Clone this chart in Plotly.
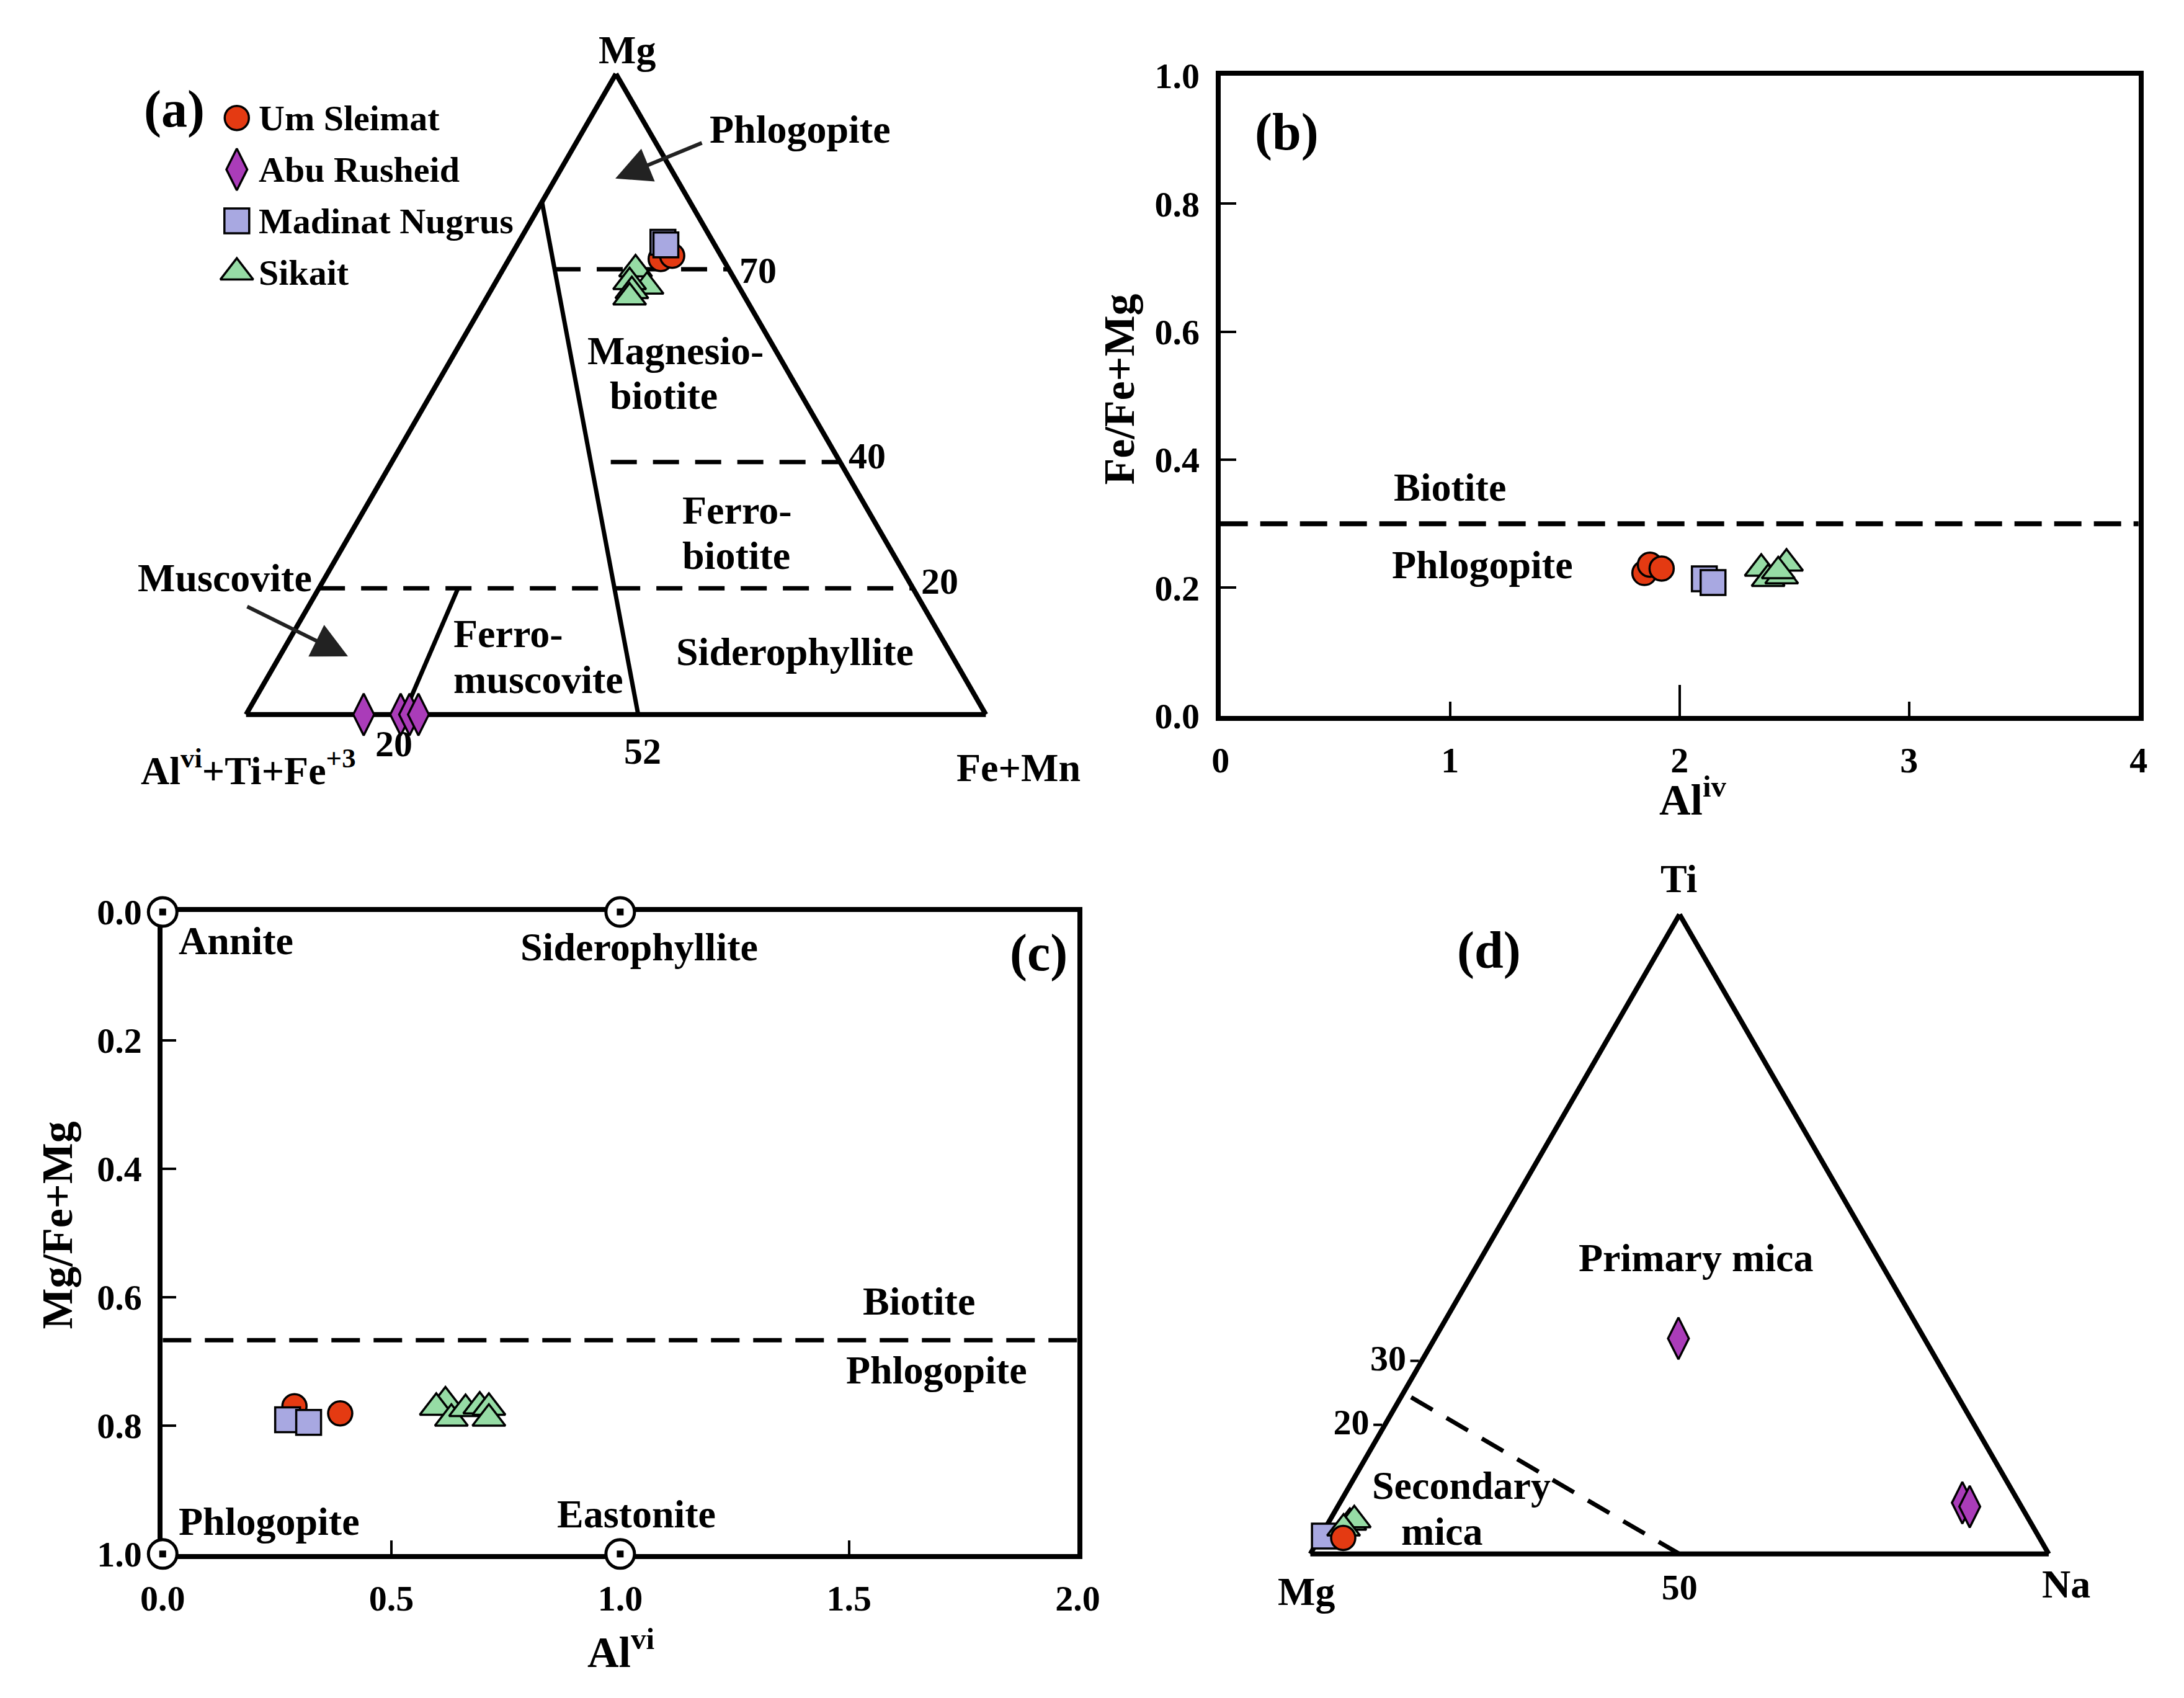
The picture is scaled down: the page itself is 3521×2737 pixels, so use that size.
import plotly.graph_objects as go

W, H = 3521, 2737
FONT = "Liberation Serif"

# ---------------- series styling ----------------
SERIES = ["Um Sleimat", "Abu Rusheid", "Madinat Nugrus", "Sikait"]
COLORS = ["#E43A12", "#AA3CB9", "#A8A8E1", "#96DCA5"]
SYMBOLS = ["circle", "diamond-tall", "square", "triangle-up"]
SIZES = [39, 48, 40, 46]

# ---------------- (a) Mg - (Al^vi+Ti+Fe3+) - (Fe+Mn) ternary ----------------
a_us_mg = [0.711, 0.716]
a_us_al = [0.084, 0.066]
a_us_fe = [0.205, 0.218]
a_ar_mg = [0.0, 0.0, 0.0, 0.0]
a_ar_al = [0.841, 0.791, 0.779, 0.767]
a_ar_fe = [0.159, 0.209, 0.221, 0.233]
a_mn_mg = [0.737, 0.733]
a_mn_al = [0.068, 0.066]
a_mn_fe = [0.195, 0.201]
a_sk_mg = [0.695, 0.668, 0.675, 0.661, 0.651]
a_sk_al = [0.126, 0.124, 0.144, 0.148, 0.156]
a_sk_fe = [0.179, 0.208, 0.181, 0.191, 0.193]

# field boundaries (Mg, Al, Fe)
A_L1 = ([0.0, 0.80], [0.47, 0.20], [0.53, 0.0])
A_L2 = ([0.0, 0.197], [0.787, 0.615], [0.213, 0.188])
A_D70 = ([0.695, 0.695], [0.2355, 0.0], [0.0695, 0.305])
A_D40 = ([0.394, 0.394], [0.31, 0.0], [0.296, 0.606])
A_D20 = ([0.197, 0.197], [0.803, 0.0], [0.0, 0.803])

# ---------------- (b) Al^iv vs Fe/(Fe+Mg) ----------------
b_us_x = [1.847, 1.871, 1.922]
b_us_y = [0.223, 0.236, 0.230]
b_mn_x = [2.108, 2.146]
b_mn_y = [0.214, 0.208]
b_sk_x = [2.356, 2.386, 2.445, 2.466, 2.430]
b_sk_y = [0.230, 0.214, 0.218, 0.238, 0.226]
B_DIVIDE = 0.30

# ---------------- (c) Al^vi vs Mg/(Fe+Mg) ----------------
c_us_x = [0.288, 0.388]
c_us_y = [0.770, 0.781]
c_mn_x = [0.273, 0.319]
c_mn_y = [0.791, 0.795]
c_sk_x = [0.618, 0.598, 0.631, 0.662, 0.693, 0.713, 0.713]
c_sk_y = [0.762, 0.772, 0.789, 0.774, 0.770, 0.772, 0.789]
C_DIVIDE = 0.667
END_NAMES = ["Annite", "Siderophyllite", "Phlogopite", "Eastonite"]
END_X = [0.0, 1.0, 0.0, 1.0]
END_Y = [0.0, 0.0, 1.0, 1.0]

# ---------------- (d) Ti - Mg - Na ternary ----------------
d_us_ti = [0.025]
d_us_mg = [0.943]
d_us_na = [0.032]
d_ar_ti = [0.337, 0.080, 0.074]
d_ar_mg = [0.333, 0.077, 0.070]
d_ar_na = [0.330, 0.843, 0.856]
d_mn_ti = [0.028]
d_mn_mg = [0.967]
d_mn_na = [0.005]
d_sk_ti = [0.049, 0.053, 0.040]
d_sk_mg = [0.922, 0.914, 0.935]
d_sk_na = [0.029, 0.033, 0.025]
D_LINE = ([0.245, 0.0], [0.741, 0.5], [0.014, 0.5])


def marker(name):
    i = SERIES.index(name)
    return dict(symbol=SYMBOLS[i], size=SIZES[i], color=COLORS[i],
                line=dict(color="black", width=3.5))


def font(size):
    return dict(family=FONT, size=size, color="black", weight="bold")


fig = go.Figure()

# ---- (a) ternary traces ----
for tri, dash in [(A_L1, "solid"), (A_L2, "solid"), (A_D70, "42px,26px"),
                  (A_D40, "42px,26px"), (A_D20, "42px,26px")]:
    fig.add_trace(go.Scatterternary(a=tri[0], b=tri[1], c=tri[2], mode="lines",
                                    line=dict(color="black", width=7, dash=dash),
                                    subplot="ternary", showlegend=False, hoverinfo="skip"))
for name, A, B, C in [("Um Sleimat", a_us_mg, a_us_al, a_us_fe),
                      ("Madinat Nugrus", a_mn_mg, a_mn_al, a_mn_fe),
                      ("Sikait", a_sk_mg, a_sk_al, a_sk_fe),
                      ("Abu Rusheid", a_ar_mg, a_ar_al, a_ar_fe)]:
    fig.add_trace(go.Scatterternary(a=A, b=B, c=C, mode="markers", marker=marker(name),
                                    subplot="ternary", cliponaxis=False, name=name,
                                    showlegend=False))

# ---- (d) ternary traces ----
fig.add_trace(go.Scatterternary(a=D_LINE[0], b=D_LINE[1], c=D_LINE[2], mode="lines",
                                line=dict(color="black", width=7, dash="40px,26px"),
                                subplot="ternary2", showlegend=False, hoverinfo="skip"))
for name, A, B, C in [("Madinat Nugrus", d_mn_ti, d_mn_mg, d_mn_na),
                      ("Sikait", d_sk_ti, d_sk_mg, d_sk_na),
                      ("Um Sleimat", d_us_ti, d_us_mg, d_us_na),
                      ("Abu Rusheid", d_ar_ti, d_ar_mg, d_ar_na)]:
    fig.add_trace(go.Scatterternary(a=A, b=B, c=C, mode="markers", marker=marker(name),
                                    subplot="ternary2", cliponaxis=False, name=name,
                                    showlegend=False))

# ---- (b) ----
fig.add_trace(go.Scatter(x=[0, 4], y=[B_DIVIDE, B_DIVIDE], mode="lines",
                         line=dict(color="black", width=8, dash="44px,20px"),
                         xaxis="x", yaxis="y", showlegend=False, hoverinfo="skip"))
for name, X, Y in [("Um Sleimat", b_us_x, b_us_y), ("Madinat Nugrus", b_mn_x, b_mn_y),
                   ("Sikait", b_sk_x, b_sk_y)]:
    fig.add_trace(go.Scatter(x=X, y=Y, mode="markers", marker=marker(name), name=name,
                             xaxis="x", yaxis="y", showlegend=False))

# ---- (c) ----
fig.add_trace(go.Scatter(x=[0, 2], y=[C_DIVIDE, C_DIVIDE], mode="lines",
                         line=dict(color="black", width=7, dash="46px,22px"),
                         xaxis="x2", yaxis="y2", showlegend=False, hoverinfo="skip"))
for name, X, Y in [("Um Sleimat", c_us_x, c_us_y), ("Madinat Nugrus", c_mn_x, c_mn_y),
                   ("Sikait", c_sk_x, c_sk_y)]:
    fig.add_trace(go.Scatter(x=X, y=Y, mode="markers", marker=marker(name), name=name,
                             xaxis="x2", yaxis="y2", showlegend=False))
fig.add_trace(go.Scatter(x=END_X, y=END_Y, mode="markers", text=END_NAMES,
                         marker=dict(symbol="circle", size=46, color="white",
                                     line=dict(color="black", width=5)),
                         xaxis="x2", yaxis="y2", cliponaxis=False, showlegend=False))
fig.add_trace(go.Scatter(x=END_X, y=END_Y, mode="markers",
                         marker=dict(symbol="square", size=11, color="black"),
                         xaxis="x2", yaxis="y2", cliponaxis=False, showlegend=False))

# ---- manual legend for (a) on a hidden page-sized overlay axis ----
LEG_X, LEG_Y0, LEG_DY, LEG_TX = 353, 162, 85, 388
ann = []
for i, name in enumerate(SERIES):
    yy = LEG_Y0 + i * LEG_DY
    fig.add_trace(go.Scatter(x=[LEG_X], y=[yy], mode="markers", marker=marker(name),
                             xaxis="x3", yaxis="y3", cliponaxis=False, showlegend=False,
                             hoverinfo="skip"))
    ann.append(dict(text=name, x=LEG_TX / W, y=1 - yy / H, xref="paper", yref="paper",
                    showarrow=False, xanchor="left", yanchor="middle", font=font(58),
                    borderpad=0))


def pa(text, x, y, size=64, xanchor="center", angle=0):
    return dict(text=text, x=x / W, y=1 - y / H, xref="paper", yref="paper",
                showarrow=False, xanchor=xanchor, yanchor="middle", font=font(size),
                textangle=angle, borderpad=0)


def da(text, x, y, xr, yr, size=64, xanchor="center"):
    return dict(text=text, x=x, y=y, xref=xr, yref=yr, showarrow=False,
                xanchor=xanchor, yanchor="middle", font=font(size), borderpad=0)


# (a) labels
ann += [
    pa("Mg", 995, 50), pa("(a)", 250, 147, 84), pa("Phlogopite", 1280, 181),
    pa("Magnesio-", 1075, 546), pa("biotite", 1056, 620),
    pa("Ferro-", 1085, 810, xanchor="left"), pa("biotite", 1085, 885, xanchor="left"),
    pa("Ferro-", 708, 1014, xanchor="left"), pa("muscovite", 708, 1089, xanchor="left"),
    pa("Siderophyllite", 1272, 1043), pa("Muscovite", 333, 921),
    pa("70", 1179, 414, 60, "left"), pa("40", 1359, 720, 60, "left"),
    pa("20", 1478, 927, 60, "left"), pa("20", 611, 1195, 60), pa("52", 1021, 1208, 60),
    pa("Al<sup>vi</sup>+Ti+Fe<sup>+3</sup>", 372, 1235), pa("Fe+Mn", 1640, 1235),
]
# arrows in (a)
for hx, hy, tx, ty in [(976, 262, 1117, 204), (536, 1051, 372, 970)]:
    ann.append(dict(text="", x=hx / W, y=1 - hy / H, xref="paper", yref="paper",
                    ax=tx - hx, ay=ty - hy, showarrow=True, arrowhead=2, arrowsize=1.9,
                    arrowwidth=6, arrowcolor="#222222", standoff=0))
# (b) labels
ann += [da("Biotite", 1.0, 0.357, "x", "y"), da("Phlogopite", 1.141, 0.236, "x", "y"),
        da("(b)", 0.29, 0.912, "x", "y", 84),
        pa("Fe/Fe+Mg", 1805, 610, 70, angle=-90), pa("Al<sup>iv</sup>", 2750, 1282, 70)]
# (c) labels
ann += [da("Annite", 0.033, 0.045, "x2", "y2", xanchor="left"),
        da("Siderophyllite", 1.041, 0.055, "x2", "y2"),
        da("(c)", 1.914, 0.064, "x2", "y2", 84),
        da("Biotite", 1.653, 0.606, "x2", "y2"),
        da("Phlogopite", 1.692, 0.714, "x2", "y2"),
        da("Phlogopite", 0.033, 0.949, "x2", "y2", xanchor="left"),
        da("Eastonite", 1.035, 0.938, "x2", "y2"),
        pa("Mg/Fe+Mg", 58, 1990, 70, angle=-90), pa("Al<sup>vi</sup>", 985, 2690, 70)]
# (d) labels
ann += [pa("Ti", 2726, 1418), pa("(d)", 2414, 1537, 84), pa("Primary mica", 2755, 2044),
        pa("Secondary", 2368, 2420), pa("mica", 2337, 2496),
        pa("Mg", 2113, 2595), pa("Na", 3364, 2583)]


def tax(**kw):
    d = dict(showgrid=False, showline=True, linecolor="black", linewidth=8, ticks="",
             showticklabels=False, title=dict(text=""), layer="below traces", min=0)
    d.update(kw)
    return d


def cax(dom, rng, vals, fmt, ticklen, **kw):
    d = dict(domain=dom, range=rng, tickvals=vals, tickformat=fmt, ticks="inside",
             ticklen=ticklen, tickwidth=4, tickcolor="black", showline=True, linewidth=8,
             linecolor="black", mirror=True, showgrid=False, zeroline=False,
             tickfont=font(58), ticklabelstandoff=14, layer="below traces",
             fixedrange=True)
    d.update(kw)
    return d


fig.update_layout(
    width=W, height=H, autosize=False,
    margin=dict(l=0, r=0, t=0, b=0),
    paper_bgcolor="white", plot_bgcolor="rgba(0,0,0,0)",
    showlegend=False, hovermode=False,
    font=font(58),
    ternary=dict(domain=dict(x=[366 / W, 1588 / W], y=[1 - 1147 / H, 1 - 89 / H]),
                 bgcolor="rgba(0,0,0,0)", sum=1,
                 aaxis=tax(), baxis=tax(), caxis=tax()),
    ternary2=dict(domain=dict(x=[2118 / W, 3337 / W], y=[1 - 2533 / H, 1 - 1477 / H]),
                  bgcolor="rgba(0,0,0,0)", sum=1,
                  aaxis=tax(ticks="outside", ticklen=14, tickwidth=4, tickcolor="black",
                            tickvals=[0.2, 0.3], ticktext=["20", "30"],
                            showticklabels=True, tickfont=font(58)),
                  baxis=tax(tickvals=[0.5], ticktext=["50"], showticklabels=True,
                            tickfont=font(58)),
                  caxis=tax()),
    xaxis=cax([1972 / W, 3483 / W], [0, 4], [0, 1, 2, 3, 4], "d", 23, anchor="y",
              minor=dict(tickvals=[2], ticks="inside", ticklen=50, tickwidth=4,
                         tickcolor="black")),
    yaxis=cax([1 - 1149 / H, 1 - 92 / H], [0, 1], [0, 0.2, 0.4, 0.6, 0.8, 1.0], ".1f", 25,
              anchor="x"),
    xaxis2=cax([231 / W, 1737 / W], [0, 2], [0, 0.5, 1.0, 1.5, 2.0], ".1f", 22,
               anchor="y2"),
    yaxis2=cax([1 - 2533 / H, 1 - 1473 / H], [1, 0], [0, 0.2, 0.4, 0.6, 0.8, 1.0], ".1f",
               22, anchor="x2"),
    xaxis3=dict(domain=[0, 1], range=[0, W], visible=False, fixedrange=True, anchor="y3"),
    yaxis3=dict(domain=[0, 1], range=[H, 0], visible=False, fixedrange=True, anchor="x3"),
    annotations=ann,
)

fig.write_html("out.html", config=dict(displayModeBar=False),
               post_script="document.body.style.margin='0px';"
                           "document.body.style.overflow='hidden';")
